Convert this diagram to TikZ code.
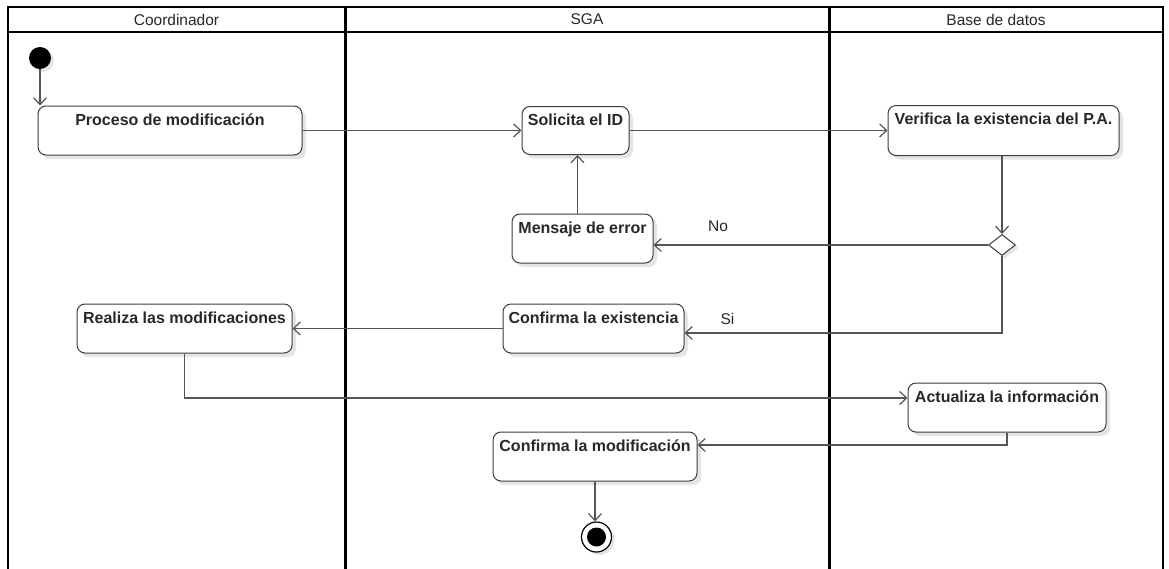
\documentclass[tikz,border=0pt]{standalone}
\usepackage{fontspec}
\setmainfont{Liberation Sans}
\usetikzlibrary{arrows.meta,shapes.geometric,shadows,calc}
\definecolor{txt}{RGB}{40,40,40}
\definecolor{conn}{RGB}{85,85,85}
\definecolor{boxline}{RGB}{60,60,60}
\tikzset{
  act/.style={draw=boxline, line width=1pt, rounded corners=8pt, fill=white, inner sep=0pt,
    drop shadow={shadow xshift=4pt, shadow yshift=-4pt, fill=black, opacity=0.1}},
  acttext/.style={anchor=north, inner sep=0pt, yshift=-8pt, font=\fontsize{16}{18}\selectfont\bfseries, text=txt},
  flow/.style={draw=conn, line width=1.3pt, -{Straight Barb[length=7pt,width=13pt,line width=1.2pt]}},
  lane/.style={draw=black, line width=2.4pt},
  lanehead/.style={font=\fontsize{15.5}{18}\selectfont, text=txt, inner sep=0pt},
  guard/.style={font=\fontsize{15.5}{18}\selectfont, text=txt, inner sep=0pt},
}
\begin{document}
\begin{tikzpicture}[x=1pt,y=-1pt]
\useasboundingbox (0,0) rectangle (1169,568);
\fill[white] (0,0) rectangle (1169,568);
% swimlanes
\draw[lane] (8,580) -- (8,7) -- (1163,7) -- (1163,580);
\draw[lane] (8,32) -- (1163,32);
\draw[lane, line width=3pt] (345,7) -- (345,580);
\draw[lane, line width=3pt] (829,7) -- (829,580);
\node[lanehead] (h1) at (176.5,19.5) {Coordinador};
\node[lanehead] (h2) at (587,19.5) {SGA};
\node[lanehead] (h3) at (996,19.5) {Base de datos};
% nodes
\node[circle, fill=black, minimum size=22pt, inner sep=0pt,
  drop shadow={shadow xshift=3pt, shadow yshift=-3pt, fill=black, opacity=0.1}] (init) at (40,58) {};
\node[act, minimum width=264pt, minimum height=49pt, label={[acttext]north:Proceso de modificación}] (proc) at (170,130.5) {};
\node[act, minimum width=107pt, minimum height=48pt, label={[acttext]north:Solicita el ID}] (sol) at (575.5,130.5) {};
\node[act, minimum width=231pt, minimum height=50pt, label={[acttext]north:Verifica la existencia del P.A.}] (ver) at (1003.5,130.5) {};
\node[act, minimum width=141pt, minimum height=49pt, label={[acttext]north:Mensaje de error}] (msg) at (582.5,238.5) {};
\node[diamond, draw=boxline, line width=1pt, fill=white, minimum width=27pt, minimum height=21pt, inner sep=0pt, aspect=1.3,
  drop shadow={shadow xshift=3pt, shadow yshift=-3pt, fill=black, opacity=0.1}] (dia) at (1002,245) {};
\node[act, minimum width=181pt, minimum height=49pt, label={[acttext]north:Confirma la existencia}] (ce) at (593.5,328.5) {};
\node[act, minimum width=215pt, minimum height=49pt, label={[acttext]north:Realiza las modificaciones}] (re) at (184.5,328.5) {};
\node[act, minimum width=198pt, minimum height=49pt, label={[acttext]north:Actualiza la información}] (upd) at (1007,407.5) {};
\node[act, minimum width=204pt, minimum height=49pt, label={[acttext]north:Confirma la modificación}] (cm) at (595,456.5) {};
\node[circle, draw=black, line width=1.2pt, fill=white, minimum size=30pt, inner sep=0pt,
  drop shadow={shadow xshift=3pt, shadow yshift=-3pt, fill=black, opacity=0.1}] (fin) at (596.5,537) {};
\node[circle, fill=black, minimum size=19pt, inner sep=0pt] (fincore) at (fin.center) {};
% connectors
\coordinate (mtop) at ([xshift=-5pt]msg.north);
\draw[flow] (init.south) -- (init.south |- proc.north);
\draw[flow] (proc.east) -- (sol.west);
\draw[flow] (sol.east) -- (ver.west);
\draw[flow] (ver.south -| dia.north) -- (dia.north);
\draw[flow] (dia.west) -- (dia.west -| msg.east);
\draw[flow] (mtop) -- (mtop |- sol.south);
\draw[flow] (dia.south) |- ([yshift=-4.5pt]ce.east);
\draw[flow] (ce.west) -- (ce.west -| re.east);
\draw[flow] (re.south) |- ([yshift=9.5pt]upd.west);
\draw[flow] (upd.south) |- ([yshift=11.5pt]cm.east);
\draw[flow] (cm.south) -- (cm.south |- fin.north);
% guards
\node[guard] (no) at (718,226) {No};
\node[guard] (si) at (727.5,319) {Si};
\end{tikzpicture}
\end{document}
